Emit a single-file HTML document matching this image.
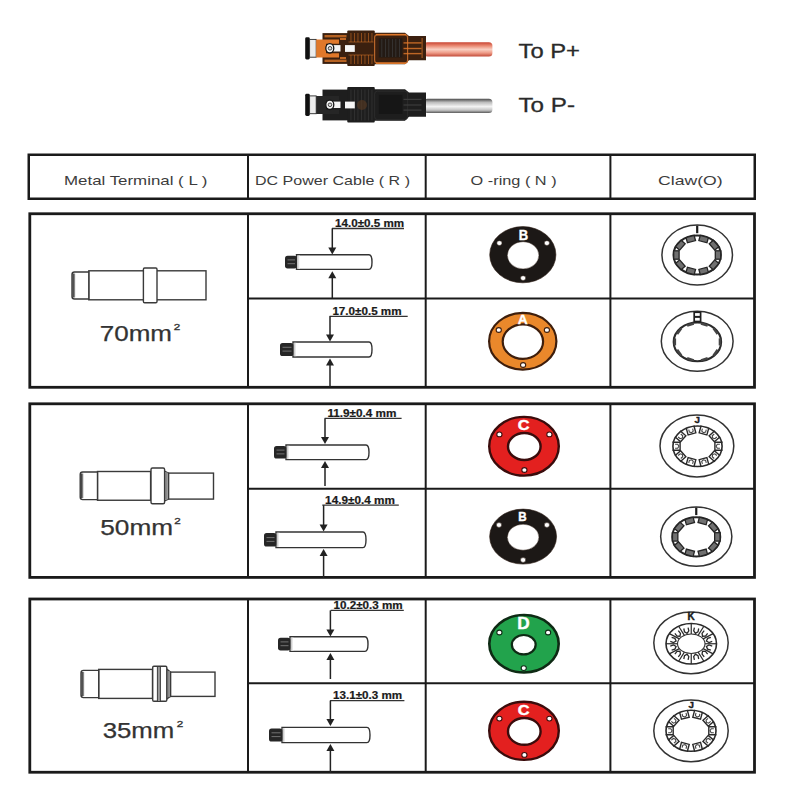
<!DOCTYPE html>
<html><head><meta charset="utf-8"><style>
html,body{margin:0;padding:0;background:#fff;width:800px;height:800px;overflow:hidden}
svg{display:block;font-family:"Liberation Sans", sans-serif}
</style></head><body>
<svg width="800" height="800" viewBox="0 0 800 800">
<defs>
<linearGradient id="capg" x1="0" y1="0" x2="1" y2="0"><stop offset="0" stop-color="#222"/><stop offset="1" stop-color="#aaa"/></linearGradient>
<linearGradient id="capg2" x1="0" y1="0" x2="1" y2="0"><stop offset="0" stop-color="#bbb"/><stop offset="1" stop-color="#fff"/></linearGradient>
<linearGradient id="cabR" x1="0" y1="0" x2="0" y2="1">
<stop offset="0" stop-color="#c84432"/><stop offset="0.25" stop-color="#ea8a74"/><stop offset="0.5" stop-color="#f9cfc2"/><stop offset="0.75" stop-color="#ee9a86"/><stop offset="1" stop-color="#c24a38"/></linearGradient>
<linearGradient id="cabG" x1="0" y1="0" x2="0" y2="1">
<stop offset="0" stop-color="#4a4a4a"/><stop offset="0.25" stop-color="#bdbdbd"/><stop offset="0.55" stop-color="#f4f4f4"/><stop offset="0.8" stop-color="#c4c4c4"/><stop offset="1" stop-color="#5a5a5a"/></linearGradient>
</defs>
<rect x="28.75" y="154.75" width="726" height="44" fill="none" stroke="#1a1a1a" stroke-width="2.5"/>
<line x1="248" y1="155" x2="248" y2="199" stroke="#1a1a1a" stroke-width="2"/>
<line x1="425.7" y1="155" x2="425.7" y2="199" stroke="#1a1a1a" stroke-width="2"/>
<line x1="610.4" y1="155" x2="610.4" y2="199" stroke="#1a1a1a" stroke-width="2"/>
<rect x="29.8" y="213.75" width="724.7" height="173.55" fill="none" stroke="#1a1a1a" stroke-width="2.8"/>
<line x1="248" y1="213.75" x2="248" y2="387.3" stroke="#1a1a1a" stroke-width="2"/>
<line x1="425.7" y1="213.75" x2="425.7" y2="387.3" stroke="#1a1a1a" stroke-width="2"/>
<line x1="610.4" y1="213.75" x2="610.4" y2="387.3" stroke="#1a1a1a" stroke-width="2"/>
<line x1="248" y1="298.5" x2="754" y2="298.5" stroke="#1a1a1a" stroke-width="2"/>
<rect x="29.8" y="403.8" width="724.7" height="173.60" fill="none" stroke="#1a1a1a" stroke-width="2.8"/>
<line x1="248" y1="403.8" x2="248" y2="577.4" stroke="#1a1a1a" stroke-width="2"/>
<line x1="425.7" y1="403.8" x2="425.7" y2="577.4" stroke="#1a1a1a" stroke-width="2"/>
<line x1="610.4" y1="403.8" x2="610.4" y2="577.4" stroke="#1a1a1a" stroke-width="2"/>
<line x1="248" y1="488.7" x2="754" y2="488.7" stroke="#1a1a1a" stroke-width="2"/>
<rect x="29.8" y="599" width="724.7" height="173.25" fill="none" stroke="#1a1a1a" stroke-width="2.8"/>
<line x1="248" y1="599" x2="248" y2="772.25" stroke="#1a1a1a" stroke-width="2"/>
<line x1="425.7" y1="599" x2="425.7" y2="772.25" stroke="#1a1a1a" stroke-width="2"/>
<line x1="610.4" y1="599" x2="610.4" y2="772.25" stroke="#1a1a1a" stroke-width="2"/>
<line x1="248" y1="683.3" x2="754" y2="683.3" stroke="#1a1a1a" stroke-width="2"/>
<text x="64" y="184.9" font-size="13.3" fill="#3c3c3c" font-weight="normal" text-anchor="start" textLength="143.5" lengthAdjust="spacingAndGlyphs" >Metal Terminal ( L )</text>
<text x="255" y="184.9" font-size="13.3" fill="#3c3c3c" font-weight="normal" text-anchor="start" textLength="155" lengthAdjust="spacingAndGlyphs" >DC Power Cable ( R )</text>
<text x="470.6" y="184.9" font-size="13.3" fill="#3c3c3c" font-weight="normal" text-anchor="start" textLength="86" lengthAdjust="spacingAndGlyphs" >O -ring ( N )</text>
<text x="658" y="184.9" font-size="13.3" fill="#3c3c3c" font-weight="normal" text-anchor="start" textLength="64.7" lengthAdjust="spacingAndGlyphs" >Claw(O)</text>
<rect x="88.8" y="270.8" width="117.20" height="29.00" rx="0" fill="#fff" stroke="#3a3a3a" stroke-width="1.4"/>
<path d="M88.8,272 L74.5,272 Q72,272 72,274.5 L72,296.5 Q72,299 74.5,299 L88.8,299 Z" fill="#fff" stroke="#3a3a3a" stroke-width="1.4"/>
<rect x="72.6" y="273.5" width="2.6" height="24" fill="url(#capg)"/>
<rect x="143.4" y="268" width="13.60" height="34.80" rx="1.2" fill="#fff" stroke="#3a3a3a" stroke-width="1.4"/>
<rect x="168.5" y="473.1" width="45.00" height="26.00" rx="0" fill="#fff" stroke="#3a3a3a" stroke-width="1.4"/>
<path d="M164.5,471 L168.5,473.1 L168.5,499.1 L164.5,501 Z" fill="#fff" stroke="#3a3a3a" stroke-width="1.3"/>
<rect x="165.2" y="472.5" width="2.6" height="27" fill="#8a8a8a"/>
<rect x="97.5" y="471.5" width="53.10" height="28.75" rx="0" fill="#fff" stroke="#3a3a3a" stroke-width="1.4"/>
<path d="M97.5,472 L82.7,472 Q80.2,472 80.2,474.5 L80.2,497.1 Q80.2,499.6 82.7,499.6 L97.5,499.6 Z" fill="#fff" stroke="#3a3a3a" stroke-width="1.4"/>
<rect x="80.8" y="473.5" width="2.6" height="24.600000000000023" fill="url(#capg)"/>
<rect x="151" y="468" width="13.60" height="35.80" rx="1.5" fill="#fff" stroke="#3a3a3a" stroke-width="1.4"/>
<rect x="170.5" y="672.1" width="44.50" height="24.30" rx="0" fill="#fff" stroke="#3a3a3a" stroke-width="1.4"/>
<path d="M166.8,669 L170.5,672.1 L170.5,696.4 L166.8,699 Z" fill="#fff" stroke="#3a3a3a" stroke-width="1.3"/>
<rect x="167.5" y="671" width="2.4" height="26" fill="#8a8a8a"/>
<rect x="98.7" y="669.4" width="53.80" height="29.00" rx="0" fill="#fff" stroke="#3a3a3a" stroke-width="1.4"/>
<path d="M98.7,670.4 L83.5,670.4 Q81,670.4 81,672.9 L81,695.1 Q81,697.6 83.5,697.6 L98.7,697.6 Z" fill="#fff" stroke="#3a3a3a" stroke-width="1.4"/>
<rect x="81.6" y="671.9" width="2.6" height="24.200000000000045" fill="url(#capg)"/>
<rect x="152.7" y="666.3" width="14.10" height="35.00" rx="1.2" fill="#fff" stroke="#3a3a3a" stroke-width="1.4"/>
<rect x="157.6" y="667" width="2.6" height="33.6" fill="#9a9a9a"/>
<line x1="157.4" y1="666.3" x2="157.4" y2="701.3" stroke="#3a3a3a" stroke-width="1"/>
<line x1="160.4" y1="666.3" x2="160.4" y2="701.3" stroke="#3a3a3a" stroke-width="1"/>
<text x="99.8" y="341.1" font-size="21.7" fill="#333" font-weight="normal" text-anchor="start" textLength="72.2" lengthAdjust="spacingAndGlyphs" stroke="#333" stroke-width="0.25">70mm</text>
<text x="173.8" y="330.4" font-size="9.6" fill="#333" font-weight="normal" text-anchor="start" textLength="6.5" lengthAdjust="spacingAndGlyphs" stroke="#333" stroke-width="0.35">2</text>
<text x="100.3" y="534.5" font-size="21.7" fill="#333" font-weight="normal" text-anchor="start" textLength="72.8" lengthAdjust="spacingAndGlyphs" stroke="#333" stroke-width="0.25">50mm</text>
<text x="174.2" y="523.8" font-size="9.6" fill="#333" font-weight="normal" text-anchor="start" textLength="6.5" lengthAdjust="spacingAndGlyphs" stroke="#333" stroke-width="0.35">2</text>
<text x="102.7" y="737.8" font-size="21.7" fill="#333" font-weight="normal" text-anchor="start" textLength="71.6" lengthAdjust="spacingAndGlyphs" stroke="#333" stroke-width="0.25">35mm</text>
<text x="176.8" y="727.2" font-size="9.6" fill="#333" font-weight="normal" text-anchor="start" textLength="6.5" lengthAdjust="spacingAndGlyphs" stroke="#333" stroke-width="0.35">2</text>
<text x="335.1" y="227.3" font-size="10.2" fill="#1a1a1a" font-weight="bold" text-anchor="start" textLength="69.09999999999997" lengthAdjust="spacingAndGlyphs" stroke="#1a1a1a" stroke-width="0.2">14.0±0.5 mm</text>
<line x1="331.9" y1="228.5" x2="404" y2="228.5" stroke="#333" stroke-width="1.3"/>
<line x1="332.3" y1="228.5" x2="332.3" y2="249.5" stroke="#222" stroke-width="1.5"/>
<path d="M328.3,247.5 L336.3,247.5 L332.3,254.5 Z" fill="#222"/>
<path d="M296.5,254.8 L369,254.8 Q372,254.8 372,262.1 Q372,269.4 369,269.4 L296.5,269.4 Z" fill="#fff" stroke="#333" stroke-width="1.4"/>
<rect x="285" y="255.8" width="12.0" height="12.599999999999966" rx="2.6" fill="#262626"/>
<line x1="287.5" y1="259.90" x2="295.0" y2="259.90" stroke="#7a7a7a" stroke-width="0.9"/>
<line x1="287.5" y1="263.70" x2="295.0" y2="263.70" stroke="#7a7a7a" stroke-width="0.9"/>
<rect x="297.3" y="255.60000000000002" width="2.6" height="13.00" fill="url(#capg2)"/>
<path d="M328.3,278.2 L336.3,278.2 L332.3,271.2 Z" fill="#222"/>
<line x1="332.3" y1="276.2" x2="332.3" y2="298" stroke="#222" stroke-width="1.5"/>
<text x="332.4" y="314.7" font-size="10.2" fill="#1a1a1a" font-weight="bold" text-anchor="start" textLength="69.20000000000005" lengthAdjust="spacingAndGlyphs" stroke="#1a1a1a" stroke-width="0.2">17.0±0.5 mm</text>
<line x1="329.6" y1="316.3" x2="407.7" y2="316.3" stroke="#333" stroke-width="1.3"/>
<line x1="330" y1="316.3" x2="330" y2="336.6" stroke="#222" stroke-width="1.5"/>
<path d="M326,334.6 L334,334.6 L330,341.6 Z" fill="#222"/>
<path d="M293,342 L369,342 Q372,342 372,349.5 Q372,357 369,357 L293,357 Z" fill="#fff" stroke="#333" stroke-width="1.4"/>
<rect x="280" y="343" width="13.5" height="13" rx="2.6" fill="#262626"/>
<line x1="282.5" y1="347.30" x2="291.5" y2="347.30" stroke="#7a7a7a" stroke-width="0.9"/>
<line x1="282.5" y1="351.10" x2="291.5" y2="351.10" stroke="#7a7a7a" stroke-width="0.9"/>
<rect x="293.8" y="342.8" width="2.6" height="13.40" fill="url(#capg2)"/>
<path d="M326,365.5 L334,365.5 L330,358.5 Z" fill="#222"/>
<line x1="330" y1="363.5" x2="330" y2="387" stroke="#222" stroke-width="1.5"/>
<text x="327.4" y="416.7" font-size="10.2" fill="#1a1a1a" font-weight="bold" text-anchor="start" textLength="69.10000000000002" lengthAdjust="spacingAndGlyphs" stroke="#1a1a1a" stroke-width="0.2">11.9±0.4 mm</text>
<line x1="324.6" y1="418.4" x2="401.6" y2="418.4" stroke="#333" stroke-width="1.3"/>
<line x1="325" y1="418.4" x2="325" y2="439" stroke="#222" stroke-width="1.5"/>
<path d="M321,437 L329,437 L325,444 Z" fill="#222"/>
<path d="M286,445 L366,445 Q369,445 369,452.3 Q369,459.6 366,459.6 L286,459.6 Z" fill="#fff" stroke="#333" stroke-width="1.4"/>
<rect x="274" y="446" width="12.5" height="12.600000000000023" rx="2.6" fill="#262626"/>
<line x1="276.5" y1="450.10" x2="284.5" y2="450.10" stroke="#7a7a7a" stroke-width="0.9"/>
<line x1="276.5" y1="453.90" x2="284.5" y2="453.90" stroke="#7a7a7a" stroke-width="0.9"/>
<rect x="286.8" y="445.8" width="2.6" height="13.00" fill="url(#capg2)"/>
<path d="M321,468 L329,468 L325,461 Z" fill="#222"/>
<line x1="325" y1="466" x2="325" y2="486" stroke="#222" stroke-width="1.5"/>
<text x="325.1" y="503.6" font-size="10.2" fill="#1a1a1a" font-weight="bold" text-anchor="start" textLength="69.79999999999995" lengthAdjust="spacingAndGlyphs" stroke="#1a1a1a" stroke-width="0.2">14.9±0.4 mm</text>
<line x1="322.3" y1="505.2" x2="398.8" y2="505.2" stroke="#333" stroke-width="1.3"/>
<line x1="323.6" y1="505.2" x2="323.6" y2="526.6" stroke="#222" stroke-width="1.5"/>
<path d="M319.6,524.6 L327.6,524.6 L323.6,531.6 Z" fill="#222"/>
<path d="M276,532 L363,532 Q366,532 366,539.8 Q366,547.6 363,547.6 L276,547.6 Z" fill="#fff" stroke="#333" stroke-width="1.4"/>
<rect x="264" y="533" width="12.5" height="13.600000000000023" rx="2.6" fill="#262626"/>
<line x1="266.5" y1="537.60" x2="274.5" y2="537.60" stroke="#7a7a7a" stroke-width="0.9"/>
<line x1="266.5" y1="541.40" x2="274.5" y2="541.40" stroke="#7a7a7a" stroke-width="0.9"/>
<rect x="276.8" y="532.8" width="2.6" height="14.00" fill="url(#capg2)"/>
<path d="M319.6,556 L327.6,556 L323.6,549 Z" fill="#222"/>
<line x1="323.6" y1="554" x2="323.6" y2="578" stroke="#222" stroke-width="1.5"/>
<text x="333.5" y="608.8" font-size="10.2" fill="#1a1a1a" font-weight="bold" text-anchor="start" textLength="69.19999999999999" lengthAdjust="spacingAndGlyphs" stroke="#1a1a1a" stroke-width="0.2">10.2±0.3 mm</text>
<line x1="330.7" y1="610.4" x2="403.8" y2="610.4" stroke="#333" stroke-width="1.3"/>
<line x1="330.4" y1="610.4" x2="330.4" y2="631.6" stroke="#222" stroke-width="1.5"/>
<path d="M326.4,629.6 L334.4,629.6 L330.4,636.6 Z" fill="#222"/>
<path d="M290,636.8 L365,636.8 Q368,636.8 368,644.0999999999999 Q368,651.4 365,651.4 L290,651.4 Z" fill="#fff" stroke="#333" stroke-width="1.4"/>
<rect x="278" y="637.8" width="12.5" height="12.600000000000023" rx="2.6" fill="#262626"/>
<line x1="280.5" y1="641.90" x2="288.5" y2="641.90" stroke="#7a7a7a" stroke-width="0.9"/>
<line x1="280.5" y1="645.70" x2="288.5" y2="645.70" stroke="#7a7a7a" stroke-width="0.9"/>
<rect x="290.8" y="637.5999999999999" width="2.6" height="13.00" fill="url(#capg2)"/>
<path d="M326.4,660 L334.4,660 L330.4,653 Z" fill="#222"/>
<line x1="330.4" y1="658" x2="330.4" y2="679" stroke="#222" stroke-width="1.5"/>
<text x="333" y="699" font-size="10.2" fill="#1a1a1a" font-weight="bold" text-anchor="start" textLength="69.10000000000002" lengthAdjust="spacingAndGlyphs" stroke="#1a1a1a" stroke-width="0.2">13.1±0.3 mm</text>
<line x1="330.1" y1="700.6" x2="404.4" y2="700.6" stroke="#333" stroke-width="1.3"/>
<line x1="330.4" y1="700.6" x2="330.4" y2="721" stroke="#222" stroke-width="1.5"/>
<path d="M326.4,719 L334.4,719 L330.4,726 Z" fill="#222"/>
<path d="M282,727.4 L367,727.4 Q370,727.4 370,735.0 Q370,742.6 367,742.6 L282,742.6 Z" fill="#fff" stroke="#333" stroke-width="1.4"/>
<rect x="269" y="728.4" width="13.5" height="13.200000000000045" rx="2.6" fill="#262626"/>
<line x1="271.5" y1="732.80" x2="280.5" y2="732.80" stroke="#7a7a7a" stroke-width="0.9"/>
<line x1="271.5" y1="736.60" x2="280.5" y2="736.60" stroke="#7a7a7a" stroke-width="0.9"/>
<rect x="282.8" y="728.1999999999999" width="2.6" height="13.60" fill="url(#capg2)"/>
<path d="M326.4,751 L334.4,751 L330.4,744 Z" fill="#222"/>
<line x1="330.4" y1="749" x2="330.4" y2="773" stroke="#222" stroke-width="1.5"/>
<ellipse cx="522.8" cy="254.7" rx="33.10" ry="28.10" fill="#1c1816" stroke="#2a1a10" stroke-width="0.6"/>
<ellipse cx="523.1" cy="255.3" rx="15.8" ry="13.6" fill="#fff" stroke="#2a1a10" stroke-width="0.4"/>
<ellipse cx="499.4" cy="243.1" rx="2.6" ry="2.4" fill="#fff" stroke="#2a1a10" stroke-width="0.5"/>
<ellipse cx="546.9" cy="243.1" rx="2.6" ry="2.4" fill="#fff" stroke="#2a1a10" stroke-width="0.5"/>
<ellipse cx="523.1" cy="278.1" rx="2.6" ry="2.4" fill="#fff" stroke="#2a1a10" stroke-width="0.5"/>
<text x="518.6999999999999" y="239.6" font-size="14" fill="#fff" font-weight="bold" text-anchor="start" textLength="9.4" lengthAdjust="spacingAndGlyphs" stroke="#fff" stroke-width="0.4">B</text>
<ellipse cx="522.75" cy="341.25" rx="33.65" ry="28.30" fill="#ea882b" stroke="#3e1e0c" stroke-width="2.2"/>
<ellipse cx="522.9" cy="341.6" rx="20.2" ry="17.2" fill="#fff" stroke="#3e1e0c" stroke-width="2.2"/>
<ellipse cx="498.75" cy="330" rx="2.6" ry="2.4" fill="#fff" stroke="#3e1e0c" stroke-width="1.1"/>
<ellipse cx="546.9" cy="330" rx="2.6" ry="2.4" fill="#fff" stroke="#3e1e0c" stroke-width="1.1"/>
<ellipse cx="523.1" cy="365" rx="2.6" ry="2.4" fill="#fff" stroke="#3e1e0c" stroke-width="1.1"/>
<text x="517.75" y="323.6" font-size="13.2" fill="#fff" font-weight="bold" text-anchor="start" textLength="10" lengthAdjust="spacingAndGlyphs" stroke="#fff" stroke-width="0.4">A</text>
<ellipse cx="524" cy="446.25" rx="34.80" ry="29.40" fill="#e3201f" stroke="#3a0c0c" stroke-width="2.4"/>
<ellipse cx="524.3" cy="446.5" rx="16.3" ry="13.5" fill="#fff" stroke="#3a0c0c" stroke-width="2.4"/>
<ellipse cx="499.4" cy="434.4" rx="2.6" ry="2.4" fill="#fff" stroke="#3a0c0c" stroke-width="1.1"/>
<ellipse cx="549.4" cy="434.4" rx="2.6" ry="2.4" fill="#fff" stroke="#3a0c0c" stroke-width="1.1"/>
<ellipse cx="524.4" cy="470" rx="2.6" ry="2.4" fill="#fff" stroke="#3a0c0c" stroke-width="1.1"/>
<text x="517.85" y="430.2" font-size="14.6" fill="#fff" font-weight="bold" text-anchor="start" textLength="11.8" lengthAdjust="spacingAndGlyphs" stroke="#fff" stroke-width="0.4">C</text>
<ellipse cx="523.1" cy="536.6" rx="33.45" ry="27.50" fill="#1c1816" stroke="#2a1a10" stroke-width="0.6"/>
<ellipse cx="523.1" cy="537.2" rx="15.8" ry="13" fill="#fff" stroke="#2a1a10" stroke-width="0.4"/>
<ellipse cx="499" cy="525" rx="2.6" ry="2.4" fill="#fff" stroke="#2a1a10" stroke-width="0.5"/>
<ellipse cx="546.9" cy="525" rx="2.6" ry="2.4" fill="#fff" stroke="#2a1a10" stroke-width="0.5"/>
<ellipse cx="523.1" cy="560" rx="2.6" ry="2.4" fill="#fff" stroke="#2a1a10" stroke-width="0.5"/>
<text x="518.3" y="521.1" font-size="12.4" fill="#fff" font-weight="bold" text-anchor="start" textLength="8.4" lengthAdjust="spacingAndGlyphs" stroke="#fff" stroke-width="0.4">B</text>
<ellipse cx="524" cy="643.75" rx="34.70" ry="28.70" fill="#22a34c" stroke="#0e2a14" stroke-width="2.6"/>
<ellipse cx="523.75" cy="644.7" rx="11.9" ry="9.7" fill="#fff" stroke="#0e2a14" stroke-width="2.2"/>
<ellipse cx="499.4" cy="632.5" rx="2.6" ry="2.4" fill="#fff" stroke="#0e2a14" stroke-width="1.1"/>
<ellipse cx="548.1" cy="632.5" rx="2.6" ry="2.4" fill="#fff" stroke="#0e2a14" stroke-width="1.1"/>
<ellipse cx="523.75" cy="668.1" rx="2.6" ry="2.4" fill="#fff" stroke="#0e2a14" stroke-width="1.1"/>
<text x="517.3" y="629.2" font-size="16.8" fill="#fff" font-weight="bold" text-anchor="start" textLength="12.4" lengthAdjust="spacingAndGlyphs" stroke="#fff" stroke-width="0.4">D</text>
<ellipse cx="524" cy="730.8" rx="34.80" ry="29.10" fill="#e3201f" stroke="#3a0c0c" stroke-width="2.4"/>
<ellipse cx="524.3" cy="731.4" rx="16.3" ry="13.4" fill="#fff" stroke="#3a0c0c" stroke-width="2.4"/>
<ellipse cx="499.4" cy="718.6" rx="2.6" ry="2.4" fill="#fff" stroke="#3a0c0c" stroke-width="1.1"/>
<ellipse cx="549.4" cy="718.6" rx="2.6" ry="2.4" fill="#fff" stroke="#3a0c0c" stroke-width="1.1"/>
<ellipse cx="524.4" cy="754.9" rx="2.6" ry="2.4" fill="#fff" stroke="#3a0c0c" stroke-width="1.1"/>
<text x="517.85" y="715.2" font-size="15" fill="#fff" font-weight="bold" text-anchor="start" textLength="11.8" lengthAdjust="spacingAndGlyphs" stroke="#fff" stroke-width="0.4">C</text>
<ellipse cx="697.2" cy="255" rx="35.3" ry="30" fill="#fff" stroke="#333" stroke-width="1.5"/>
<ellipse cx="697.2" cy="255" rx="23.7" ry="19.6" fill="none" stroke="#262626" stroke-width="2"/>
<g transform="translate(703.60,239.21) rotate(15.2)"><rect x="-4.2" y="-2.8" width="8.4" height="5.4" fill="#707070" stroke="#252525" stroke-width="1.3"/></g>
<g transform="translate(713.95,245.24) rotate(48.9)"><rect x="-4.2" y="-2.8" width="8.4" height="5.4" fill="#707070" stroke="#252525" stroke-width="1.3"/></g>
<g transform="translate(717.90,255.00) rotate(90.0)"><rect x="-4.2" y="-2.8" width="8.4" height="5.4" fill="#707070" stroke="#252525" stroke-width="1.3"/></g>
<g transform="translate(713.95,264.76) rotate(131.1)"><rect x="-4.2" y="-2.8" width="8.4" height="5.4" fill="#707070" stroke="#252525" stroke-width="1.3"/></g>
<g transform="translate(703.60,270.79) rotate(164.8)"><rect x="-4.2" y="-2.8" width="8.4" height="5.4" fill="#707070" stroke="#252525" stroke-width="1.3"/></g>
<g transform="translate(690.80,270.79) rotate(-164.8)"><rect x="-4.2" y="-2.8" width="8.4" height="5.4" fill="#707070" stroke="#252525" stroke-width="1.3"/></g>
<g transform="translate(680.45,264.76) rotate(-131.1)"><rect x="-4.2" y="-2.8" width="8.4" height="5.4" fill="#707070" stroke="#252525" stroke-width="1.3"/></g>
<g transform="translate(676.50,255.00) rotate(-90.0)"><rect x="-4.2" y="-2.8" width="8.4" height="5.4" fill="#707070" stroke="#252525" stroke-width="1.3"/></g>
<g transform="translate(680.45,245.24) rotate(-48.9)"><rect x="-4.2" y="-2.8" width="8.4" height="5.4" fill="#707070" stroke="#252525" stroke-width="1.3"/></g>
<g transform="translate(690.80,239.21) rotate(-15.2)"><rect x="-4.2" y="-2.8" width="8.4" height="5.4" fill="#707070" stroke="#252525" stroke-width="1.3"/></g>
<line x1="697.2" y1="225.6" x2="697.2" y2="233.20000000000002" stroke="#1a1a1a" stroke-width="2.2"/>
<ellipse cx="697.2" cy="341.25" rx="35.9" ry="30" fill="#fff" stroke="#333" stroke-width="1.5"/>
<ellipse cx="697.4" cy="341.9" rx="23.7" ry="19.400000000000002" fill="none" stroke="#2a2a2a" stroke-width="2.1"/>
<g transform="translate(704.41,324.40) rotate(18.0)"><rect x="-3.5" y="-1" width="7" height="2.4" fill="#444"/></g>
<g transform="translate(715.76,331.08) rotate(54.0)"><rect x="-3.5" y="-1" width="7" height="2.4" fill="#444"/></g>
<g transform="translate(720.10,341.90) rotate(90.0)"><rect x="-3.5" y="-1" width="7" height="2.4" fill="#444"/></g>
<g transform="translate(715.76,352.72) rotate(126.0)"><rect x="-3.5" y="-1" width="7" height="2.4" fill="#444"/></g>
<g transform="translate(704.41,359.40) rotate(162.0)"><rect x="-3.5" y="-1" width="7" height="2.4" fill="#444"/></g>
<g transform="translate(690.39,359.40) rotate(198.0)"><rect x="-3.5" y="-1" width="7" height="2.4" fill="#444"/></g>
<g transform="translate(679.04,352.72) rotate(234.0)"><rect x="-3.5" y="-1" width="7" height="2.4" fill="#444"/></g>
<g transform="translate(674.70,341.90) rotate(270.0)"><rect x="-3.5" y="-1" width="7" height="2.4" fill="#444"/></g>
<g transform="translate(679.04,331.08) rotate(306.0)"><rect x="-3.5" y="-1" width="7" height="2.4" fill="#444"/></g>
<g transform="translate(690.39,324.40) rotate(342.0)"><rect x="-3.5" y="-1" width="7" height="2.4" fill="#444"/></g>
<rect x="694.1999999999999" y="312.25" width="6.4" height="9.25" fill="#fff" stroke="#1e1e1e" stroke-width="1.7"/>
<line x1="694.1999999999999" y1="316.88" x2="700.6" y2="316.88" stroke="#1e1e1e" stroke-width="2"/>
<ellipse cx="696.9" cy="446" rx="36.9" ry="30.9" fill="#fff" stroke="#333" stroke-width="1.5"/>
<ellipse cx="697.5" cy="446.25" rx="24.6" ry="20.25" fill="none" stroke="#2a2a2a" stroke-width="1.6"/>
<g transform="translate(703.87,430.80) rotate(15.1)"><path d="M-4,-4.4 L-4,3.2 L4,3.2 L4,-4.4" fill="none" stroke="#2a2a2a" stroke-width="1.4"/><path d="M-2,-1.8 L-2,0.8 L0,2 L2,0.8 L2,-1.8" fill="none" stroke="#444" stroke-width="1.1"/></g>
<g transform="translate(714.17,436.70) rotate(48.8)"><path d="M-4,-4.4 L-4,3.2 L4,3.2 L4,-4.4" fill="none" stroke="#2a2a2a" stroke-width="1.4"/><path d="M-2,-1.8 L-2,0.8 L0,2 L2,0.8 L2,-1.8" fill="none" stroke="#444" stroke-width="1.1"/></g>
<g transform="translate(718.10,446.25) rotate(90.0)"><path d="M-4,-4.4 L-4,3.2 L4,3.2 L4,-4.4" fill="none" stroke="#2a2a2a" stroke-width="1.4"/><path d="M-2,-1.8 L-2,0.8 L0,2 L2,0.8 L2,-1.8" fill="none" stroke="#444" stroke-width="1.1"/></g>
<g transform="translate(714.17,455.80) rotate(131.2)"><path d="M-4,-4.4 L-4,3.2 L4,3.2 L4,-4.4" fill="none" stroke="#2a2a2a" stroke-width="1.4"/><path d="M-2,-1.8 L-2,0.8 L0,2 L2,0.8 L2,-1.8" fill="none" stroke="#444" stroke-width="1.1"/></g>
<g transform="translate(703.87,461.70) rotate(164.9)"><path d="M-4,-4.4 L-4,3.2 L4,3.2 L4,-4.4" fill="none" stroke="#2a2a2a" stroke-width="1.4"/><path d="M-2,-1.8 L-2,0.8 L0,2 L2,0.8 L2,-1.8" fill="none" stroke="#444" stroke-width="1.1"/></g>
<g transform="translate(691.13,461.70) rotate(-164.9)"><path d="M-4,-4.4 L-4,3.2 L4,3.2 L4,-4.4" fill="none" stroke="#2a2a2a" stroke-width="1.4"/><path d="M-2,-1.8 L-2,0.8 L0,2 L2,0.8 L2,-1.8" fill="none" stroke="#444" stroke-width="1.1"/></g>
<g transform="translate(680.83,455.80) rotate(-131.2)"><path d="M-4,-4.4 L-4,3.2 L4,3.2 L4,-4.4" fill="none" stroke="#2a2a2a" stroke-width="1.4"/><path d="M-2,-1.8 L-2,0.8 L0,2 L2,0.8 L2,-1.8" fill="none" stroke="#444" stroke-width="1.1"/></g>
<g transform="translate(676.90,446.25) rotate(-90.0)"><path d="M-4,-4.4 L-4,3.2 L4,3.2 L4,-4.4" fill="none" stroke="#2a2a2a" stroke-width="1.4"/><path d="M-2,-1.8 L-2,0.8 L0,2 L2,0.8 L2,-1.8" fill="none" stroke="#444" stroke-width="1.1"/></g>
<g transform="translate(680.83,436.70) rotate(-48.8)"><path d="M-4,-4.4 L-4,3.2 L4,3.2 L4,-4.4" fill="none" stroke="#2a2a2a" stroke-width="1.4"/><path d="M-2,-1.8 L-2,0.8 L0,2 L2,0.8 L2,-1.8" fill="none" stroke="#444" stroke-width="1.1"/></g>
<g transform="translate(691.13,430.80) rotate(-15.1)"><path d="M-4,-4.4 L-4,3.2 L4,3.2 L4,-4.4" fill="none" stroke="#2a2a2a" stroke-width="1.4"/><path d="M-2,-1.8 L-2,0.8 L0,2 L2,0.8 L2,-1.8" fill="none" stroke="#444" stroke-width="1.1"/></g>
<text x="697.2" y="422.6" font-size="9.8" fill="#1a1a1a" font-weight="bold" text-anchor="middle" stroke="#1a1a1a" stroke-width="0.4">J</text>
<ellipse cx="696.25" cy="536.6" rx="35.6" ry="29.7" fill="#fff" stroke="#333" stroke-width="1.5"/>
<ellipse cx="696.25" cy="536.9" rx="24" ry="19.6" fill="none" stroke="#262626" stroke-width="2"/>
<g transform="translate(702.74,521.11) rotate(15.0)"><rect x="-4.2" y="-2.8" width="8.4" height="5.4" fill="#707070" stroke="#252525" stroke-width="1.3"/></g>
<g transform="translate(713.24,527.14) rotate(48.6)"><rect x="-4.2" y="-2.8" width="8.4" height="5.4" fill="#707070" stroke="#252525" stroke-width="1.3"/></g>
<g transform="translate(717.25,536.90) rotate(90.0)"><rect x="-4.2" y="-2.8" width="8.4" height="5.4" fill="#707070" stroke="#252525" stroke-width="1.3"/></g>
<g transform="translate(713.24,546.66) rotate(131.4)"><rect x="-4.2" y="-2.8" width="8.4" height="5.4" fill="#707070" stroke="#252525" stroke-width="1.3"/></g>
<g transform="translate(702.74,552.69) rotate(165.0)"><rect x="-4.2" y="-2.8" width="8.4" height="5.4" fill="#707070" stroke="#252525" stroke-width="1.3"/></g>
<g transform="translate(689.76,552.69) rotate(-165.0)"><rect x="-4.2" y="-2.8" width="8.4" height="5.4" fill="#707070" stroke="#252525" stroke-width="1.3"/></g>
<g transform="translate(679.26,546.66) rotate(-131.4)"><rect x="-4.2" y="-2.8" width="8.4" height="5.4" fill="#707070" stroke="#252525" stroke-width="1.3"/></g>
<g transform="translate(675.25,536.90) rotate(-90.0)"><rect x="-4.2" y="-2.8" width="8.4" height="5.4" fill="#707070" stroke="#252525" stroke-width="1.3"/></g>
<g transform="translate(679.26,527.14) rotate(-48.6)"><rect x="-4.2" y="-2.8" width="8.4" height="5.4" fill="#707070" stroke="#252525" stroke-width="1.3"/></g>
<g transform="translate(689.76,521.11) rotate(-15.0)"><rect x="-4.2" y="-2.8" width="8.4" height="5.4" fill="#707070" stroke="#252525" stroke-width="1.3"/></g>
<line x1="696.25" y1="507.50000000000006" x2="696.25" y2="515.0999999999999" stroke="#1a1a1a" stroke-width="2.2"/>
<ellipse cx="691" cy="642.8" rx="37.2" ry="30.9" fill="#fff" stroke="#333" stroke-width="1.5"/>
<ellipse cx="691.25" cy="643.75" rx="25.25" ry="20.25" fill="none" stroke="#2a2a2a" stroke-width="1.6"/>
<line x1="691.25" y1="623.50" x2="691.25" y2="634.00" stroke="#2a2a2a" stroke-width="1.2"/>
<line x1="703.88" y1="626.21" x2="698.12" y2="635.31" stroke="#2a2a2a" stroke-width="1.2"/>
<line x1="713.12" y1="633.62" x2="703.16" y2="638.88" stroke="#2a2a2a" stroke-width="1.2"/>
<line x1="716.50" y1="643.75" x2="705.00" y2="643.75" stroke="#2a2a2a" stroke-width="1.2"/>
<line x1="713.12" y1="653.88" x2="703.16" y2="648.62" stroke="#2a2a2a" stroke-width="1.2"/>
<line x1="703.88" y1="661.29" x2="698.12" y2="652.19" stroke="#2a2a2a" stroke-width="1.2"/>
<line x1="691.25" y1="664.00" x2="691.25" y2="653.50" stroke="#2a2a2a" stroke-width="1.2"/>
<line x1="678.62" y1="661.29" x2="684.38" y2="652.19" stroke="#2a2a2a" stroke-width="1.2"/>
<line x1="669.38" y1="653.88" x2="679.34" y2="648.62" stroke="#2a2a2a" stroke-width="1.2"/>
<line x1="666.00" y1="643.75" x2="677.50" y2="643.75" stroke="#2a2a2a" stroke-width="1.2"/>
<line x1="669.38" y1="633.62" x2="679.34" y2="638.88" stroke="#2a2a2a" stroke-width="1.2"/>
<line x1="678.62" y1="626.21" x2="684.38" y2="635.31" stroke="#2a2a2a" stroke-width="1.2"/>
<ellipse cx="691.25" cy="643.75" rx="13.75" ry="9.75" fill="none" stroke="#333" stroke-width="1.1"/>
<g transform="translate(695.97,630.76) rotate(12.2)"><path d="M-2.2,-2.8 L-2.2,0.6 L0,2.6 L2.2,0.6 L2.2,-2.8" fill="none" stroke="#2a2a2a" stroke-width="1.3"/></g>
<g transform="translate(704.15,634.24) rotate(39.0)"><path d="M-2.2,-2.8 L-2.2,0.6 L0,2.6 L2.2,0.6 L2.2,-2.8" fill="none" stroke="#2a2a2a" stroke-width="1.3"/></g>
<g transform="translate(708.88,640.27) rotate(71.7)"><path d="M-2.2,-2.8 L-2.2,0.6 L0,2.6 L2.2,0.6 L2.2,-2.8" fill="none" stroke="#2a2a2a" stroke-width="1.3"/></g>
<g transform="translate(708.88,647.23) rotate(108.3)"><path d="M-2.2,-2.8 L-2.2,0.6 L0,2.6 L2.2,0.6 L2.2,-2.8" fill="none" stroke="#2a2a2a" stroke-width="1.3"/></g>
<g transform="translate(704.15,653.26) rotate(141.0)"><path d="M-2.2,-2.8 L-2.2,0.6 L0,2.6 L2.2,0.6 L2.2,-2.8" fill="none" stroke="#2a2a2a" stroke-width="1.3"/></g>
<g transform="translate(695.97,656.74) rotate(167.8)"><path d="M-2.2,-2.8 L-2.2,0.6 L0,2.6 L2.2,0.6 L2.2,-2.8" fill="none" stroke="#2a2a2a" stroke-width="1.3"/></g>
<g transform="translate(686.53,656.74) rotate(-167.8)"><path d="M-2.2,-2.8 L-2.2,0.6 L0,2.6 L2.2,0.6 L2.2,-2.8" fill="none" stroke="#2a2a2a" stroke-width="1.3"/></g>
<g transform="translate(678.35,653.26) rotate(-141.0)"><path d="M-2.2,-2.8 L-2.2,0.6 L0,2.6 L2.2,0.6 L2.2,-2.8" fill="none" stroke="#2a2a2a" stroke-width="1.3"/></g>
<g transform="translate(673.62,647.23) rotate(-108.3)"><path d="M-2.2,-2.8 L-2.2,0.6 L0,2.6 L2.2,0.6 L2.2,-2.8" fill="none" stroke="#2a2a2a" stroke-width="1.3"/></g>
<g transform="translate(673.62,640.27) rotate(-71.7)"><path d="M-2.2,-2.8 L-2.2,0.6 L0,2.6 L2.2,0.6 L2.2,-2.8" fill="none" stroke="#2a2a2a" stroke-width="1.3"/></g>
<g transform="translate(678.35,634.24) rotate(-39.0)"><path d="M-2.2,-2.8 L-2.2,0.6 L0,2.6 L2.2,0.6 L2.2,-2.8" fill="none" stroke="#2a2a2a" stroke-width="1.3"/></g>
<g transform="translate(686.53,630.76) rotate(-12.2)"><path d="M-2.2,-2.8 L-2.2,0.6 L0,2.6 L2.2,0.6 L2.2,-2.8" fill="none" stroke="#2a2a2a" stroke-width="1.3"/></g>
<text x="691.2" y="620.3" font-size="10" fill="#1a1a1a" font-weight="bold" text-anchor="middle" stroke="#1a1a1a" stroke-width="0.4">K</text>
<ellipse cx="691" cy="730.8" rx="37.2" ry="30.9" fill="#fff" stroke="#333" stroke-width="1.5"/>
<ellipse cx="691" cy="730.8" rx="25" ry="20.5" fill="none" stroke="#2a2a2a" stroke-width="1.6"/>
<g transform="translate(697.49,715.11) rotate(15.0)"><path d="M-4,-4.4 L-4,3.2 L4,3.2 L4,-4.4" fill="none" stroke="#2a2a2a" stroke-width="1.4"/><path d="M-2,-1.8 L-2,0.8 L0,2 L2,0.8 L2,-1.8" fill="none" stroke="#444" stroke-width="1.1"/></g>
<g transform="translate(707.99,721.10) rotate(48.7)"><path d="M-4,-4.4 L-4,3.2 L4,3.2 L4,-4.4" fill="none" stroke="#2a2a2a" stroke-width="1.4"/><path d="M-2,-1.8 L-2,0.8 L0,2 L2,0.8 L2,-1.8" fill="none" stroke="#444" stroke-width="1.1"/></g>
<g transform="translate(712.00,730.80) rotate(90.0)"><path d="M-4,-4.4 L-4,3.2 L4,3.2 L4,-4.4" fill="none" stroke="#2a2a2a" stroke-width="1.4"/><path d="M-2,-1.8 L-2,0.8 L0,2 L2,0.8 L2,-1.8" fill="none" stroke="#444" stroke-width="1.1"/></g>
<g transform="translate(707.99,740.50) rotate(131.3)"><path d="M-4,-4.4 L-4,3.2 L4,3.2 L4,-4.4" fill="none" stroke="#2a2a2a" stroke-width="1.4"/><path d="M-2,-1.8 L-2,0.8 L0,2 L2,0.8 L2,-1.8" fill="none" stroke="#444" stroke-width="1.1"/></g>
<g transform="translate(697.49,746.49) rotate(165.0)"><path d="M-4,-4.4 L-4,3.2 L4,3.2 L4,-4.4" fill="none" stroke="#2a2a2a" stroke-width="1.4"/><path d="M-2,-1.8 L-2,0.8 L0,2 L2,0.8 L2,-1.8" fill="none" stroke="#444" stroke-width="1.1"/></g>
<g transform="translate(684.51,746.49) rotate(-165.0)"><path d="M-4,-4.4 L-4,3.2 L4,3.2 L4,-4.4" fill="none" stroke="#2a2a2a" stroke-width="1.4"/><path d="M-2,-1.8 L-2,0.8 L0,2 L2,0.8 L2,-1.8" fill="none" stroke="#444" stroke-width="1.1"/></g>
<g transform="translate(674.01,740.50) rotate(-131.3)"><path d="M-4,-4.4 L-4,3.2 L4,3.2 L4,-4.4" fill="none" stroke="#2a2a2a" stroke-width="1.4"/><path d="M-2,-1.8 L-2,0.8 L0,2 L2,0.8 L2,-1.8" fill="none" stroke="#444" stroke-width="1.1"/></g>
<g transform="translate(670.00,730.80) rotate(-90.0)"><path d="M-4,-4.4 L-4,3.2 L4,3.2 L4,-4.4" fill="none" stroke="#2a2a2a" stroke-width="1.4"/><path d="M-2,-1.8 L-2,0.8 L0,2 L2,0.8 L2,-1.8" fill="none" stroke="#444" stroke-width="1.1"/></g>
<g transform="translate(674.01,721.10) rotate(-48.7)"><path d="M-4,-4.4 L-4,3.2 L4,3.2 L4,-4.4" fill="none" stroke="#2a2a2a" stroke-width="1.4"/><path d="M-2,-1.8 L-2,0.8 L0,2 L2,0.8 L2,-1.8" fill="none" stroke="#444" stroke-width="1.1"/></g>
<g transform="translate(684.51,715.11) rotate(-15.0)"><path d="M-4,-4.4 L-4,3.2 L4,3.2 L4,-4.4" fill="none" stroke="#2a2a2a" stroke-width="1.4"/><path d="M-2,-1.8 L-2,0.8 L0,2 L2,0.8 L2,-1.8" fill="none" stroke="#444" stroke-width="1.1"/></g>
<text x="691.2" y="707.6" font-size="9.8" fill="#1a1a1a" font-weight="bold" text-anchor="middle" stroke="#1a1a1a" stroke-width="0.4">J</text>
<rect x="424" y="42.25" width="68.4" height="14.25" rx="3.5" fill="url(#cabR)"/>
<rect x="322.5" y="33.1" width="26" height="30.8" fill="#3b200f"/>
<rect x="347.25" y="30.5" width="27.5" height="35.5" rx="1" fill="#3b200f"/>
<path d="M374,32.75 L405,32.75 L409,36.1 L426,36.1 L426,60.3 L409,60.3 L405,64.25 L374,64.25 Z" fill="#3b200f"/>
<rect x="305.2" y="37.25" width="4.6" height="22.2" rx="1.4" fill="#101010"/>
<rect x="309.6" y="39.4" width="6.6" height="17.8" fill="#ececec" stroke="#2a2a2a" stroke-width="0.9"/>
<path d="M316.2,39.5 L339,39.5 L339,43.8 L326,43.8 L326,53.2 L339,53.2 L339,57.5 L316.2,57.5 Z" fill="#e0782a"/>
<rect x="324.5" y="35" width="22" height="2.4" fill="#e0782a" opacity="0.75"/>
<rect x="324.5" y="59.6" width="22" height="2.4" fill="#e0782a" opacity="0.75"/>
<rect x="340" y="38" width="6" height="2" fill="#e0782a" opacity="0.8"/>
<rect x="340" y="57" width="6" height="2" fill="#e0782a" opacity="0.8"/>
<rect x="350.5" y="33" width="0.9" height="9" fill="#e0782a" opacity="0.55"/>
<rect x="350.5" y="55" width="0.9" height="9" fill="#e0782a" opacity="0.55"/>
<rect x="354" y="33" width="0.9" height="9" fill="#e0782a" opacity="0.55"/>
<rect x="354" y="55" width="0.9" height="9" fill="#e0782a" opacity="0.55"/>
<rect x="357.5" y="33" width="0.9" height="9" fill="#e0782a" opacity="0.55"/>
<rect x="357.5" y="55" width="0.9" height="9" fill="#e0782a" opacity="0.55"/>
<rect x="361" y="33" width="0.9" height="9" fill="#e0782a" opacity="0.55"/>
<rect x="361" y="55" width="0.9" height="9" fill="#e0782a" opacity="0.55"/>
<rect x="364.5" y="33" width="0.9" height="9" fill="#e0782a" opacity="0.55"/>
<rect x="364.5" y="55" width="0.9" height="9" fill="#e0782a" opacity="0.55"/>
<rect x="368" y="33" width="0.9" height="9" fill="#e0782a" opacity="0.55"/>
<rect x="368" y="55" width="0.9" height="9" fill="#e0782a" opacity="0.55"/>
<rect x="371.5" y="33" width="0.9" height="9" fill="#e0782a" opacity="0.55"/>
<rect x="371.5" y="55" width="0.9" height="9" fill="#e0782a" opacity="0.55"/>
<rect x="348.5" y="41.5" width="25" height="1" fill="#e0782a" opacity="0.5"/>
<rect x="348.5" y="54.5" width="25" height="1" fill="#e0782a" opacity="0.5"/>
<rect x="374.6" y="34.6" width="33" height="28.6" rx="3" fill="none" stroke="#b8662a" stroke-width="1.2"/>
<rect x="376" y="33.9" width="30" height="1.5" fill="#e0782a"/>
<rect x="376" y="62.4" width="30" height="1.5" fill="#e0782a"/>
<rect x="378.8" y="38.4" width="23.6" height="19.1" fill="#231a14"/>
<rect x="381.5" y="39" width="0.7" height="18" fill="#3d3d3d"/>
<rect x="385" y="39" width="0.7" height="18" fill="#3d3d3d"/>
<rect x="388.5" y="39" width="0.7" height="18" fill="#3d3d3d"/>
<rect x="392" y="39" width="0.7" height="18" fill="#3d3d3d"/>
<rect x="395.5" y="39" width="0.7" height="18" fill="#3d3d3d"/>
<rect x="399" y="39" width="0.7" height="18" fill="#3d3d3d"/>
<rect x="403.5" y="42.199999999999996" width="18" height="1.4" fill="#e0782a" opacity="0.8"/>
<rect x="403.5" y="47.8" width="18" height="1.4" fill="#e0782a" opacity="0.8"/>
<rect x="403.5" y="52.9" width="18" height="1.4" fill="#e0782a" opacity="0.8"/>
<rect x="421.5" y="38" width="1.2" height="20" fill="#e0782a" opacity="0.6"/>
<rect x="332.5" y="45.1" width="8" height="6.4" fill="#f4f4f4"/>
<ellipse cx="329.8" cy="48.3" rx="4" ry="4.7" fill="#f4f4f4" stroke="#151515" stroke-width="1.3"/>
<circle cx="330" cy="48.3" r="1.8" fill="#ddd" stroke="#333" stroke-width="0.9"/>
<rect x="345" y="45.1" width="9.8" height="6.8" fill="#f6f6f6"/>
<rect x="424" y="98.75" width="68.4" height="14.25" rx="3.5" fill="url(#cabG)"/>
<rect x="322.5" y="89.6" width="26" height="30.8" fill="#1e1e1e"/>
<rect x="347.25" y="87.0" width="27.5" height="35.5" rx="1" fill="#1e1e1e"/>
<path d="M374,89.25 L405,89.25 L409,92.6 L426,92.6 L426,116.8 L409,116.8 L405,120.75 L374,120.75 Z" fill="#1e1e1e"/>
<rect x="305.2" y="93.75" width="4.6" height="22.2" rx="1.4" fill="#101010"/>
<rect x="309.6" y="95.9" width="6.6" height="17.8" fill="#ececec" stroke="#2a2a2a" stroke-width="0.9"/>
<path d="M316.2,96.0 L339,96.0 L339,100.3 L326,100.3 L326,109.7 L339,109.7 L339,114.0 L316.2,114.0 Z" fill="#262626"/>
<rect x="350.5" y="89.5" width="0.9" height="31" fill="#3a3a3a" opacity="0.7"/>
<rect x="354" y="89.5" width="0.9" height="31" fill="#3a3a3a" opacity="0.7"/>
<rect x="357.5" y="89.5" width="0.9" height="31" fill="#3a3a3a" opacity="0.7"/>
<rect x="361" y="89.5" width="0.9" height="31" fill="#3a3a3a" opacity="0.7"/>
<rect x="364.5" y="89.5" width="0.9" height="31" fill="#3a3a3a" opacity="0.7"/>
<rect x="368" y="89.5" width="0.9" height="31" fill="#3a3a3a" opacity="0.7"/>
<rect x="371.5" y="89.5" width="0.9" height="31" fill="#3a3a3a" opacity="0.7"/>
<rect x="374.6" y="91.1" width="33" height="28.6" rx="3" fill="none" stroke="#2c2c2c" stroke-width="1"/>
<rect x="378.8" y="94.9" width="23.6" height="19.1" fill="#161616"/>
<ellipse cx="362" cy="105.0" rx="5" ry="5" fill="#5a3a22" opacity="0.6"/>
<rect x="403.5" y="98.8" width="18" height="1.2" fill="#3c3c3c"/>
<rect x="403.5" y="104.4" width="18" height="1.2" fill="#3c3c3c"/>
<rect x="403.5" y="109.5" width="18" height="1.2" fill="#3c3c3c"/>
<rect x="332.5" y="101.6" width="8" height="6.4" fill="#f4f4f4"/>
<ellipse cx="329.8" cy="104.8" rx="4" ry="4.7" fill="#f4f4f4" stroke="#151515" stroke-width="1.3"/>
<circle cx="330" cy="104.8" r="1.8" fill="#ddd" stroke="#333" stroke-width="0.9"/>
<rect x="345" y="101.6" width="9.8" height="6.8" fill="#f6f6f6"/>
<text x="518.5" y="58.1" font-size="20.9" fill="#2a2a2a" font-weight="normal" text-anchor="start" textLength="61.5" lengthAdjust="spacingAndGlyphs" stroke="#2a2a2a" stroke-width="0.3">To P+</text>
<text x="518.5" y="112.25" font-size="20.9" fill="#2a2a2a" font-weight="normal" text-anchor="start" textLength="56.5" lengthAdjust="spacingAndGlyphs" stroke="#2a2a2a" stroke-width="0.3">To P-</text>
</svg></body></html>
